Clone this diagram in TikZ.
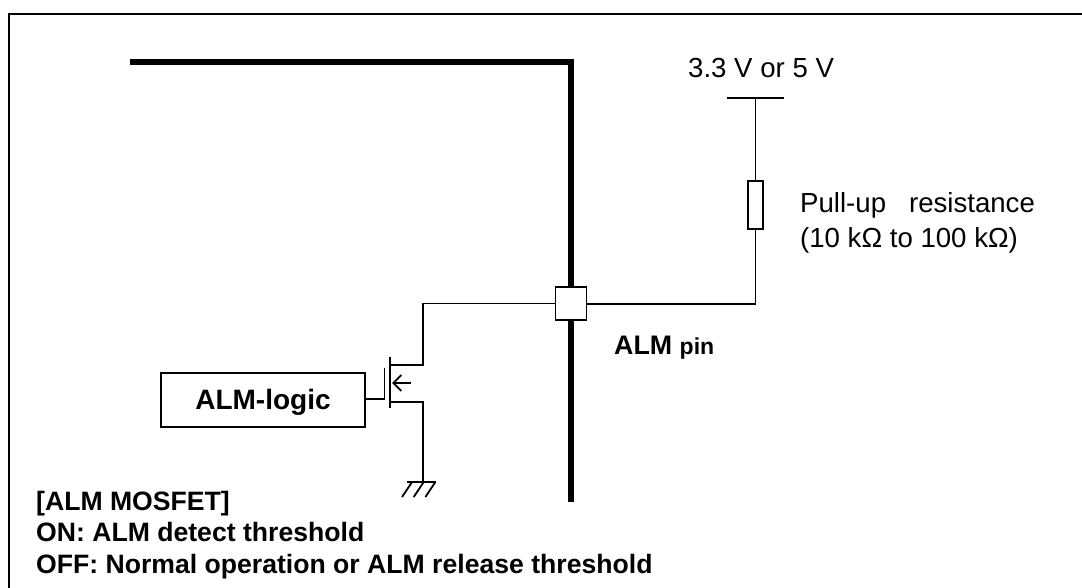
\documentclass[tikz,border=0pt]{standalone}
\usepackage{fontspec}
\setmainfont{Liberation Sans}
\usetikzlibrary{arrows.meta}
\tikzset{
	wire/.style={line width=1.8pt},
	pinbox/.style={rectangle, draw, fill=white, line width=1.8pt, inner sep=0pt, minimum width=31pt, minimum height=33pt},
	resbox/.style={rectangle, draw, fill=white, line width=1.8pt, inner sep=0pt, minimum width=15pt, minimum height=48pt},
	logicbox/.style={rectangle, draw, line width=1.5pt, inner sep=0pt, minimum width=204pt, minimum height=54pt},
	label/.style={inner sep=0pt, anchor=base west, font=\fontsize{27.6}{32}\selectfont},
	boldlabel/.style={inner sep=0pt, anchor=base west, font=\bfseries\fontsize{26.6}{31}\selectfont}
}
\begin{document}
\begin{tikzpicture}[x=1pt, y=-1pt]
			\useasboundingbox (0,0) rectangle (1082,588);
			% Frame
			\coordinate (framebottom) at (9,588);
			\coordinate (framecorner) at (9,14);
			\coordinate (frameright) at (1082,14);
			\draw[line width=2.2pt] (framebottom) -- (framecorner) -- (frameright);
			% Bus
			\coordinate (busstart) at (130,62.5);
			\coordinate (buscorner) at (571,62.5);
			\coordinate (busend) at (571,502);
			\draw[line width=6pt] (busstart) -- (buscorner) -- (busend);
			% Nodes
			\node[pinbox] (pin) at (571,303.5) {};
			\node[resbox] (res) at (755.5,205) {};
			\node[logicbox] (logic) at (263,400) {};
			\coordinate (railleft) at (727,98);
			\coordinate (railright) at (784,98);
			\coordinate (rail) at (755.5,98);
			\coordinate (rescorner) at (755.5,304);
			\coordinate (draincorner) at (423,303.5);
			\coordinate (drain) at (423,365);
			\coordinate (source) at (423,402);
			\coordinate (chtop) at (390,357);
			\coordinate (chbot) at (390,408);
			\coordinate (chdrain) at (390,365);
			\coordinate (chsource) at (390,402);
			\coordinate (gatetop) at (384.5,368);
			\coordinate (gate) at (384.5,399);
			\coordinate (arrowstart) at (411,383);
			\coordinate (arrowend) at (392,383);
			\coordinate (gnd) at (422,482);
			% Wires
			\draw[wire] (railleft) -- (railright);
			\draw[wire] (rail) -- (res);
			\draw[wire] (res) -- (rescorner) -- (pin.east |- rescorner);
			\draw[wire] (pin.west |- draincorner) -- (draincorner) -- (drain) -- (chdrain);
			\draw[wire] (chsource) -- (source) -- (source |- gnd);
			\draw[wire] (chtop) -- (chbot);
			\draw[wire] (gatetop) -- (gate) -- (logic.east |- gate);
			\draw[wire, -{Straight Barb[length=8pt, width=16pt]}] (arrowstart) -- (arrowend);
			% Ground
			\draw[wire] (407,482) -- (436,482);
			\foreach \i in {0,1,2} {
				\draw[wire] ({412+11.7*\i},482) -- ({402+11.7*\i},497);
			}
			% Texts
			\node[inner sep=0pt, anchor=base, font=\bfseries\fontsize{28}{32}\selectfont] (logictext) at (263,409) {ALM-logic};
			\node[label] (supply) at (688,78) {3.3 V or 5 V};
			\node[label] (pullup) at (800,213) {Pull-up\ \ \ resistance};
			\node[label] (range) at (800,248) {(10 kΩ to 100 kΩ)};
			\node[inner sep=0pt, anchor=base west, font=\bfseries\fontsize{26.8}{31}\selectfont] (pinlabel) at (614,354) {ALM {\fontsize{23}{27}\selectfont pin}};
			\node[boldlabel] (mosfet) at (36,510) {[ALM MOSFET]};
			\node[boldlabel] (on) at (36,541) {ON: ALM detect threshold};
			\node[boldlabel] (off) at (36,573) {OFF: Normal operation or ALM release threshold};
		\end{tikzpicture}
\end{document}
